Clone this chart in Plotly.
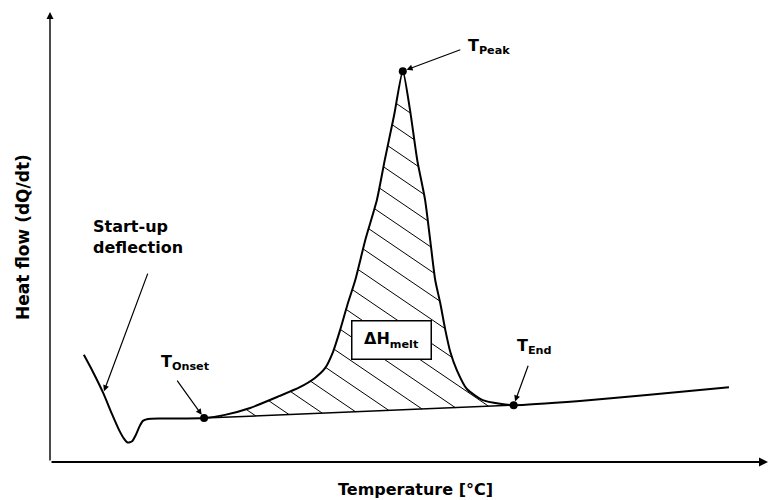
import plotly.graph_objects as go

# ---------------- data (arbitrary units) ----------------
temperature = [4.7, 5.9, 7.4, 8.6, 9.6, 10.3, 10.8, 11.4, 11.9, 12.4, 12.9, 13.6,
               15.3, 18.8, 21.4, 24.3, 27.8, 31.9, 34.7, 36.8, 38.2, 39.3, 40.3,
               41.3, 42.4, 43.8, 45.4, 46.5, 47.8, 49.0, 50.0, 51.0, 52.1, 52.8,
               53.5, 54.2, 54.9, 55.6, 56.5, 57.9, 60.1, 62.5, 64.4, 73.6, 82.9, 94.3]
heat_flow = [23.2, 19.7, 14.9, 10.4, 6.9, 5.0, 4.2, 4.5, 5.8, 7.6, 8.9, 9.3,
             9.4, 9.4, 9.5, 10.2, 11.7, 14.3, 16.2, 18.2, 20.3, 23.8, 28.6,
             34.0, 39.4, 48.1, 56.7, 65.4, 75.1, 84.6, 76.2, 65.4, 56.7, 48.1,
             39.4, 34.4, 28.6, 23.8, 19.9, 15.8, 13.4, 12.6, 12.3, 13.2, 14.5, 16.2]

event_names = ["Onset", "Peak", "End"]
event_idx = [14, 29, 42]          # positions of T_Onset, T_Peak, T_End in the curve
startup_idx = 2                   # point on the start-up deflection the arrow points to

x_title = "Temperature [°C]"
y_title = "Heat flow (dQ/dt)"

# ---------------- layout geometry ----------------
W, H = 770, 500
M_L, M_R, M_T, M_B = 40, 0, 0, 28
X_RANGE = [-1.3889, 100.0]
Y_RANGE = [-2.1645, 100.0]
PLOT_W = W - M_L - M_R
PLOT_H = H - M_T - M_B
KX = PLOT_W / (X_RANGE[1] - X_RANGE[0])
KY = PLOT_H / (Y_RANGE[1] - Y_RANGE[0])


def to_px(t, q):
    return M_L + (t - X_RANGE[0]) * KX, M_T + (Y_RANGE[1] - q) * KY


def from_px(px, py):
    return X_RANGE[0] + (px - M_L) / KX, Y_RANGE[1] - (py - M_T) / KY


def paper(px, py):
    return (px - M_L) / PLOT_W, (M_T + PLOT_H - py) / PLOT_H


FONT = "DejaVu Sans"

# ---------------- hatching of the melting area ----------------
i0, i1 = event_idx[0], event_idx[2]
poly = [to_px(t, q) for t, q in zip(temperature[i0:i1 + 1], heat_flow[i0:i1 + 1])]
poly_closed = poly + [poly[0]]
HATCH_SLOPE = 0.68   # screen slope (down-right)
HATCH_STEP = 24
hx, hy = [], []
c = -166.0
while c < 290:
    pts = []
    for (x1, y1), (x2, y2) in zip(poly_closed[:-1], poly_closed[1:]):
        g1 = y1 - HATCH_SLOPE * x1 - c
        g2 = y2 - HATCH_SLOPE * x2 - c
        if (g1 < 0) != (g2 < 0):
            s = g1 / (g1 - g2)
            pts.append((x1 + s * (x2 - x1), y1 + s * (y2 - y1)))
    pts.sort()
    for a, b in zip(pts[0::2], pts[1::2]):
        t1, q1 = from_px(*a)
        t2, q2 = from_px(*b)
        hx += [t1, t2, None]
        hy += [q1, q2, None]
    c += HATCH_STEP

fig = go.Figure()

fig.add_trace(go.Scatter(x=hx, y=hy, mode="lines",
                         line=dict(color="black", width=1), hoverinfo="skip"))
# integration baseline
fig.add_trace(go.Scatter(x=[temperature[i0], temperature[i1]],
                         y=[heat_flow[i0], heat_flow[i1]], mode="lines",
                         line=dict(color="black", width=1.5), hoverinfo="skip"))
# DSC curve
fig.add_trace(go.Scatter(x=temperature, y=heat_flow, mode="lines",
                         line=dict(color="black", width=2, shape="spline", smoothing=0.6)))
# characteristic points
fig.add_trace(go.Scatter(x=[temperature[i] for i in event_idx],
                         y=[heat_flow[i] for i in event_idx], mode="markers",
                         marker=dict(color="black", size=8)))

ann = []
# axes with arrows
ann.append(dict(x=from_px(768, 0)[0], y=0, ax=0, ay=0, xref="x", yref="y",
                axref="x", ayref="y", text="", showarrow=True, arrowhead=2,
                arrowsize=1, arrowwidth=1.8, arrowcolor="black"))
ann.append(dict(x=0, y=from_px(0, 12)[1], ax=0, ay=0, xref="x", yref="y",
                axref="x", ayref="y", text="", showarrow=True, arrowhead=2,
                arrowsize=1, arrowwidth=1.4, arrowcolor="black"))

# pointer arrows (pixel offsets of tail from head)
arrow_offsets = {"Onset": (-28, -39), "Peak": (59, -22), "End": (15, -41)}
for name, idx in zip(event_names, event_idx):
    ax_, ay_ = arrow_offsets[name]
    ann.append(dict(x=temperature[idx], y=heat_flow[idx], ax=ax_, ay=ay_,
                    xref="x", yref="y", text="", showarrow=True, arrowhead=2,
                    arrowsize=1, arrowwidth=1.2, arrowcolor="black", standoff=4))
ann.append(dict(x=temperature[startup_idx], y=heat_flow[startup_idx], ax=45, ay=-121,
                xref="x", yref="y", text="", showarrow=True, arrowhead=2,
                arrowsize=1, arrowwidth=1.2, arrowcolor="black", standoff=2))

lab_font = dict(family=FONT, size=16, color="black", weight="bold")
label_pos = {"Onset": (159, 362), "Peak": (466, 47), "End": (515, 347)}
for name in event_names:
    lx, ly = paper(*label_pos[name])
    ann.append(dict(x=lx, y=ly, xref="paper", yref="paper", text="T<sub>%s</sub>" % name,
                    showarrow=False, xanchor="left", yanchor="middle", font=lab_font))

# Delta H box
bx, by = paper(391, 339.5)
ann.append(dict(x=bx, y=by, xref="paper", yref="paper", text="ΔH<sub>melt</sub>",
                showarrow=False, xanchor="center", yanchor="middle", font=lab_font,
                bgcolor="white", bordercolor="black", borderwidth=1.5,
                width=78, height=37, borderpad=0))

sx, sy = paper(91, 237)
ann.append(dict(x=sx, y=sy, xref="paper", yref="paper", text="Start-up<br>deflection",
                showarrow=False, xanchor="left", yanchor="middle", align="left",
                font=lab_font))

yx, yy = paper(23, 237)
ann.append(dict(x=yx, y=yy, xref="paper", yref="paper", text=y_title,
                showarrow=False, textangle=-90, xanchor="center", yanchor="middle",
                font=dict(family=FONT, size=17, color="black", weight="bold")))
tx, ty = paper(415, 490)
ann.append(dict(x=tx, y=ty, xref="paper", yref="paper", text=x_title,
                showarrow=False, xanchor="center", yanchor="middle", font=lab_font))

fig.update_layout(
    width=W, height=H,
    margin=dict(l=M_L, r=M_R, t=M_T, b=M_B),
    paper_bgcolor="white", plot_bgcolor="white",
    showlegend=False,
    xaxis=dict(range=X_RANGE, visible=False, fixedrange=True),
    yaxis=dict(range=Y_RANGE, visible=False, fixedrange=True),
    annotations=ann,
    font=dict(family=FONT),
)

fig.write_html("out.html")
